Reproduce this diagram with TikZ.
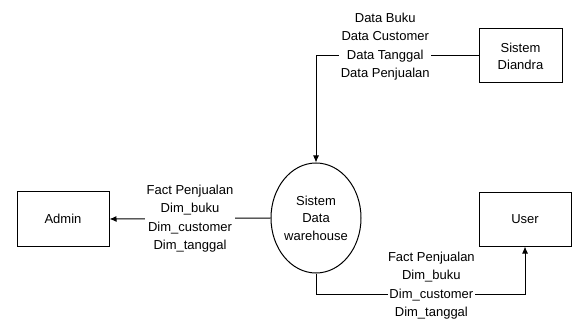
\documentclass[tikz,border=0pt]{standalone}
\usepackage{fontspec}
\setmainfont{Liberation Sans}
\usetikzlibrary{arrows.meta, shapes.geometric}

\begin{document}
\begin{tikzpicture}[>={Latex[length=7pt,width=6pt]}, x=1pt, y=-1pt, line width=1pt,
    box/.style={draw, minimum width=92pt, minimum height=54pt, align=center, font=\fontsize{13}{17}\selectfont},
    lbl/.style={fill=white, inner sep=1.5pt, align=center, font=\fontsize{13}{18.5}\selectfont}]
    \useasboundingbox (0,0) rectangle (572,320);

    \node[box] (admin) at (63,219) {Admin};
    \node[draw, ellipse, minimum width=90pt, minimum height=110pt, inner sep=0pt, align=center,
          font=\fontsize{13}{17.5}\selectfont] (dw) at (316,218) {Sistem\\Data\\warehouse};
    \node[box, minimum width=83pt] (diandra) at (520.5,56) {Sistem\\Diandra};
    \node[box, minimum height=53pt] (user) at (525,219.5) {User};

    % data masuk dari sistem diandra
    \draw[->] (diandra.west) -- node[lbl, pos=0.574, yshift=9.5pt] {Data Buku\\Data Customer\\Data Tanggal\\Data Penjualan}
        (diandra.west -| dw.north) -- (dw.north);

    % keluaran ke admin
    \draw[->] (dw.west) -- node[lbl, midway] {Fact Penjualan\\Dim\_buku\\Dim\_customer\\Dim\_tanggal} (admin.east);

    % keluaran ke user
    \draw[->] (dw.south) -- ++(0,21) coordinate (turn)
        -- node[lbl, pos=0.552, yshift=9pt, inner sep=0.5pt] {Fact Penjualan\\Dim\_buku\\Dim\_customer\\Dim\_tanggal}
        (turn -| user.south) -- (user.south);
\end{tikzpicture}
\end{document}
